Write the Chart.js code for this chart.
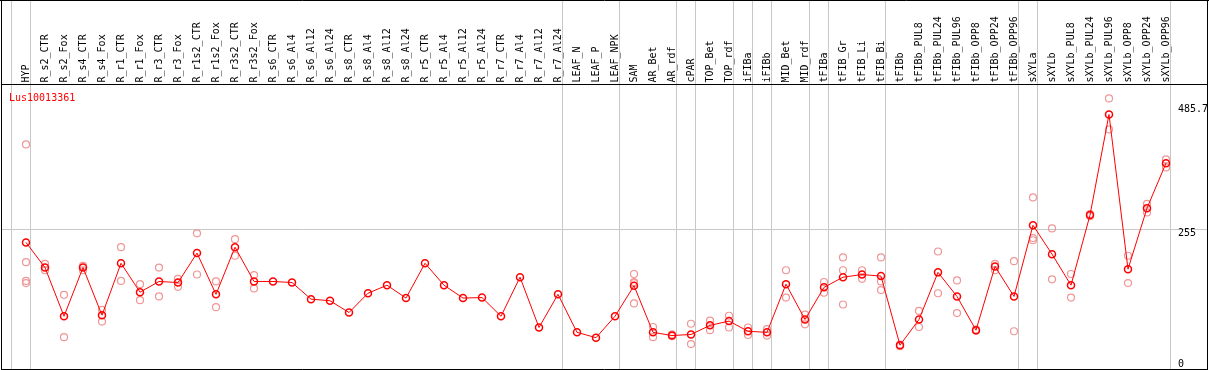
<!DOCTYPE html>
<html>
<head>
<meta charset="utf-8">
<title>Lus10013361</title>
<script src="https://cdn.jsdelivr.net/npm/chart.js"></script>
<style>
  body { margin: 0; background: #fff; }
  #wrap { width: 1209px; height: 370px; }
</style>
</head>
<body>
<div id="wrap"><canvas id="myChart" width="1209" height="370"></canvas></div>
<script>
const geneName = "Lus10013361";

const samples = [
  "HYP", "R_s2_CTR", "R_s2_Fox", "R_s4_CTR", "R_s4_Fox", "R_r1_CTR", "R_r1_Fox", "R_r3_CTR", "R_r3_Fox",
  "R_r1s2_CTR", "R_r1s2_Fox", "R_r3s2_CTR", "R_r3s2_Fox",
  "R_s6_CTR", "R_s6_Al4", "R_s6_Al12", "R_s6_Al24", "R_s8_CTR", "R_s8_Al4", "R_s8_Al12", "R_s8_Al24",
  "R_r5_CTR", "R_r5_Al4", "R_r5_Al12", "R_r5_Al24", "R_r7_CTR", "R_r7_Al4", "R_r7_Al12", "R_r7_Al24",
  "LEAF_N", "LEAF_P", "LEAF_NPK", "SAM", "AR_Bet", "AR_rdf", "cPAR", "TOP_Bet", "TOP_rdf",
  "iFIBa", "iFIBb", "MID_Bet", "MID_rdf", "tFIBa", "tFIB_Gr", "tFIB_Li", "tFIB_Bi", "tFIBb",
  "tFIBb_PUL8", "tFIBb_PUL24", "tFIBb_PUL96", "tFIBb_OPP8", "tFIBb_OPP24", "tFIBb_OPP96",
  "sXYLa", "sXYLb", "sXYLb_PUL8", "sXYLb_PUL24", "sXYLb_PUL96", "sXYLb_OPP8", "sXYLb_OPP24", "sXYLb_OPP96"
];

// mean expression per sample
const means = [
  230, 183, 92, 183, 94, 191, 137, 157, 155, 210, 133, 221, 157,
  157, 155, 124, 121, 99, 135, 150, 126, 191, 150, 126, 127, 92, 165, 71, 133,
  62, 52, 92, 149, 62, 56, 58, 75, 83, 64, 62, 152, 86, 146, 165, 170, 167, 38,
  86, 174, 129, 66, 185, 129, 262, 208, 150, 281, 469, 180, 294, 378
];

// individual replicates (faint circles)
const replicates = [
  [413, 193, 158, 154], [190, 178], [132, 53], [186, 178], [104, 82], [221, 158], [152, 122],
  [183, 129], [162, 147], [247, 170], [157, 109], [236, 205], [169, 144],
  [], [], [], [], [], [], [], [], [], [], [], [], [], [], [], [],
  [], [], [], [171, 156, 154, 116], [72, 53], [58, 55], [78, 40], [84, 66], [93, 71],
  [71, 57], [68, 56], [178, 127], [95, 77], [156, 136], [202, 178, 114], [178, 162],
  [202, 157, 141], [36, 39], [102, 72], [213, 135], [159, 98], [65, 67], [190, 178], [195, 64],
  [314, 238, 234], [256, 161], [171, 127], [283, 279], [499, 441], [205, 154], [302, 286], [385, 370]
];

const yTicks = [0, 255, 485.7];
// first sample of each group, a grey line is drawn on its left
const groupStarts = [0, 1, 29, 32, 35, 36, 38, 39, 40, 42, 43, 46, 53, 54, 61];

const monoFont = '10px "DejaVu Sans Mono", monospace';
const colShift = 15 / 19;

const frame = {
  id: 'frame',
  beforeDraw(chart) {
    const ctx = chart.ctx;
    const x = chart.scales.x, y = chart.scales.y, a = chart.chartArea;
    ctx.save();
    ctx.fillStyle = '#fff';
    ctx.fillRect(0, 0, chart.width, chart.height);
    ctx.strokeStyle = '#c8c8c8';
    ctx.lineWidth = 1;
    ctx.beginPath();
    groupStarts.forEach(k => {
      const px = Math.round(x.getPixelForValue(k - colShift)) + 0.5;
      ctx.moveTo(px, 0);
      ctx.lineTo(px, a.bottom);
    });
    const gy = Math.round(y.getPixelForValue(255)) + 0.5;
    ctx.moveTo(a.left, gy);
    ctx.lineTo(a.right, gy);
    ctx.stroke();
    ctx.restore();
  },
  afterDraw(chart) {
    const ctx = chart.ctx;
    const x = chart.scales.x, y = chart.scales.y, a = chart.chartArea;
    ctx.save();

    // frame lines
    ctx.strokeStyle = '#000';
    ctx.lineWidth = 1;
    ctx.beginPath();
    ctx.moveTo(0, 0.5); ctx.lineTo(chart.width, 0.5);
    ctx.moveTo(a.left, a.top - 0.5); ctx.lineTo(a.right, a.top - 0.5);
    ctx.moveTo(a.left, a.bottom + 0.5); ctx.lineTo(a.right + 1, a.bottom + 0.5);
    ctx.moveTo(a.left + 0.5, 0); ctx.lineTo(a.left + 0.5, a.bottom + 1);
    ctx.moveTo(a.right + 0.5, 0); ctx.lineTo(a.right + 0.5, a.bottom + 1);
    ctx.stroke();

    ctx.font = monoFont;
    ctx.fillStyle = '#000';

    // sample names in the header, reading upwards
    ctx.textAlign = 'left';
    ctx.textBaseline = 'alphabetic';
    samples.forEach((name, i) => {
      ctx.save();
      ctx.translate(x.getPixelForValue(i) + 3.3, a.top - 2.5);
      ctx.rotate(-Math.PI / 2);
      ctx.fillText(name, 0, 0);
      ctx.restore();
    });

    // value labels on the right
    ctx.textBaseline = 'top';
    yTicks.forEach(v => {
      const py = Math.min(y.getPixelForValue(v) - 1, a.bottom - 10);
      ctx.fillText(String(v), 1178, py);
    });

    ctx.fillStyle = '#ff0000';
    ctx.textBaseline = 'alphabetic';
    ctx.fillText(geneName, 9, 101);
    ctx.restore();
  }
};

const meanPoints = means.map((v, i) => ({ x: i, y: v }));
const repPoints = replicates.flatMap((r, i) => r.map(v => ({ x: i, y: v })));

new Chart("myChart", {
  type: "line",
  data: {
    datasets: [{
      data: meanPoints,
      borderColor: "#ff0000",
      borderWidth: 1,
      pointRadius: 3.5,
      pointBorderWidth: 1.5,
      pointBorderColor: "#ff0000",
      pointBackgroundColor: "rgba(0,0,0,0)",
      fill: false,
      tension: 0
    }, {
      data: repPoints,
      showLine: false,
      pointRadius: 3.5,
      pointBorderWidth: 1.2,
      pointBorderColor: "rgb(240,150,150)",
      pointBackgroundColor: "rgba(0,0,0,0)"
    }]
  },
  options: {
    responsive: false,
    animation: false,
    devicePixelRatio: 1,
    layout: { autoPadding: false, padding: { top: 85, left: 1, right: 2, bottom: 1 } },
    plugins: {
      legend: { display: false },
      tooltip: { enabled: false }
    },
    scales: {
      x: { type: "linear", display: false, min: -25 / 19, max: -25 / 19 + 1206 / 19 },
      y: { display: false, min: -6.5, max: 524 }
    }
  },
  plugins: [frame]
});
</script>
</body>
</html>
